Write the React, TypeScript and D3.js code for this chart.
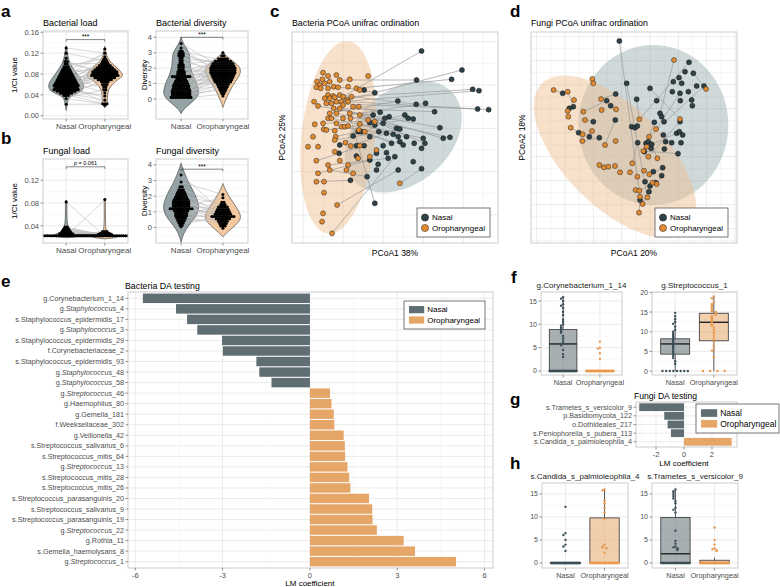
import React from 'react'
import * as d3 from 'd3'

const FONT = '"Liberation Sans", Arial, Helvetica, sans-serif'
const NASAL_BAR = '#5f6e73'
const ORO_BAR = '#e6a667'
const NASAL_PT = '#2f4248'
const ORO_PT = '#e08b32'
const NASAL_VIOLIN = '#96a3a6'
const ORO_VIOLIN = '#f2c9a0'
const GRID = '#e3e3e3'
const GRID_MINOR = '#f1f1f1'
const BORDER = '#cccccc'
const TICK_TXT = '#4d4d4d'
const groups = ['Nasal', 'Oropharyngeal']

// ---- a/b violins: density outline [value, relative half width], dot rows [value, count], pairs [nasal, oro]
const bacLoadNasalProfile = [[0.134, 0], [0.12, 0.08], [0.11, 0.12], [0.1, 0.22], [0.09, 0.4], [0.08, 0.6], [0.07, 0.82], [0.06, 1.0], [0.05, 0.95], [0.045, 0.75], [0.04, 0.4], [0.035, 0.18], [0.03, 0.1], [0.02, 0.05], [0.01, 0]]
const bacLoadOroProfile = [[0.133, 0], [0.12, 0.08], [0.11, 0.15], [0.1, 0.4], [0.09, 0.75], [0.08, 1.0], [0.075, 0.98], [0.07, 0.75], [0.06, 0.4], [0.05, 0.2], [0.04, 0.15], [0.03, 0.14], [0.022, 0.14], [0.015, 0]]
const bacLoadNasalDots = [[0.13, 1], [0.12, 1], [0.11, 1], [0.104, 2], [0.099, 2], [0.094, 3], [0.089, 4], [0.085, 5], [0.081, 6], [0.077, 7], [0.073, 8], [0.069, 9], [0.065, 10], [0.061, 11], [0.058, 12], [0.054, 11], [0.05, 12], [0.047, 9], [0.043, 6], [0.039, 3], [0.033, 1], [0.022, 1]]
const bacLoadOroDots = [[0.128, 1], [0.12, 1], [0.113, 1], [0.108, 2], [0.104, 3], [0.1, 4], [0.096, 6], [0.092, 8], [0.088, 10], [0.084, 12], [0.08, 12], [0.077, 13], [0.073, 10], [0.069, 7], [0.065, 4], [0.06, 3], [0.055, 2], [0.05, 2], [0.044, 1], [0.038, 1], [0.03, 1], [0.023, 3], [0.02, 1]]
const bacLoadPairs = [[0.13, 0.12], [0.12, 0.105], [0.105, 0.08], [0.1, 0.085], [0.095, 0.11], [0.09, 0.075], [0.085, 0.09], [0.08, 0.095], [0.078, 0.07], [0.075, 0.12], [0.07, 0.1], [0.068, 0.08], [0.065, 0.09], [0.063, 0.11], [0.06, 0.075], [0.058, 0.085], [0.056, 0.1], [0.055, 0.07], [0.053, 0.08], [0.05, 0.095], [0.05, 0.06], [0.048, 0.09], [0.047, 0.04], [0.045, 0.078], [0.043, 0.03], [0.042, 0.085], [0.04, 0.023], [0.038, 0.07], [0.035, 0.05], [0.033, 0.022], [0.06, 0.025], [0.07, 0.055], [0.065, 0.045], [0.055, 0.035], [0.022, 0.022], [0.08, 0.065], [0.085, 0.12], [0.1, 0.1], [0.058, 0.082], [0.062, 0.095]]

const bacDivNasalProfile = [[4.0, 0], [3.6, 0.12], [3.2, 0.35], [2.9, 0.48], [2.5, 0.48], [2.1, 0.52], [1.7, 0.6], [1.3, 0.75], [0.9, 0.9], [0.5, 0.98], [0.2, 0.95], [-0.1, 0.72], [-0.4, 0.4], [-0.7, 0.12], [-0.95, 0]]
const bacDivOroProfile = [[3.1, 0], [2.8, 0.15], [2.5, 0.5], [2.2, 0.85], [1.9, 1.0], [1.6, 0.95], [1.3, 0.8], [1.0, 0.62], [0.6, 0.42], [0.2, 0.25], [-0.2, 0.1], [-0.55, 0]]
const bacDivNasalDots = [[3.6, 1], [3.3, 1], [3.1, 2], [2.95, 3], [2.8, 3], [2.65, 2], [2.5, 2], [2.35, 2], [2.2, 3], [2.05, 3], [1.9, 3], [1.75, 4], [1.6, 4], [1.45, 9], [1.3, 5], [1.15, 6], [1.0, 7], [0.85, 8], [0.7, 8], [0.55, 9], [0.4, 9], [0.25, 9], [0.1, 10]]
const bacDivOroDots = [[3.0, 1], [2.8, 2], [2.6, 5], [2.45, 8], [2.3, 10], [2.15, 11], [2.0, 12], [1.85, 12], [1.7, 12], [1.55, 11], [1.4, 10], [1.25, 9], [1.1, 8], [0.95, 6], [0.8, 5], [0.65, 4], [0.5, 3], [0.35, 2], [0.2, 1]]
const bacDivPairs = [[3.6, 2.0], [3.3, 1.5], [3.1, 2.5], [3.0, 1.8], [2.9, 2.2], [2.8, 1.2], [2.6, 2.4], [2.4, 1.9], [2.2, 2.6], [2.0, 1.6], [1.9, 2.3], [1.7, 1.4], [1.6, 2.1], [1.5, 2.5], [1.45, 1.8], [1.4, 1.0], [1.3, 2.0], [1.2, 1.7], [1.1, 2.4], [1.0, 1.5], [0.9, 2.2], [0.85, 1.1], [0.8, 1.9], [0.7, 2.6], [0.65, 1.3], [0.6, 2.0], [0.5, 1.6], [0.45, 0.9], [0.4, 2.3], [0.35, 1.2], [0.3, 1.8], [0.25, 0.6], [0.2, 2.1], [0.15, 1.4], [0.1, 1.0], [0.1, 2.5], [0.05, 0.3], [0.05, 1.7], [0.02, 0.8], [0.0, 2.0], [1.0, 3.0], [2.5, 0.5]]

const fungLoadNasalProfile = [[0.085, 0], [0.082, 0.05], [0.06, 0.04], [0.045, 0.06], [0.037, 0.12], [0.03, 0.25], [0.026, 0.5], [0.023, 0.8], [0.021, 0.7], [0.019, 0]]
const fungLoadOroProfile = [[0.088, 0], [0.085, 0.04], [0.06, 0.03], [0.04, 0.04], [0.03, 0.08], [0.026, 0.3], [0.023, 0.55], [0.021, 0.75], [0.019, 0.6], [0.017, 0]]
const fungLoadNasalDots = [[0.082, 1], [0.038, 2], [0.035, 3], [0.032, 4], [0.029, 5], [0.026, 7], [0.0225, 34]]
const fungLoadOroDots = [[0.086, 1], [0.03, 3], [0.027, 5], [0.025, 7], [0.0225, 34]]
const fungLoadPairs = [[0.082, 0.022], [0.022, 0.085], [0.038, 0.023], [0.036, 0.024], [0.035, 0.022], [0.034, 0.025], [0.033, 0.023], [0.032, 0.022], [0.031, 0.024], [0.03, 0.022], [0.029, 0.023], [0.028, 0.022], [0.027, 0.024], [0.026, 0.022], [0.025, 0.026], [0.024, 0.028], [0.023, 0.03]]

const fungDivNasalProfile = [[4.1, 0], [3.7, 0.12], [3.3, 0.25], [2.9, 0.4], [2.5, 0.6], [2.1, 0.78], [1.7, 0.92], [1.3, 1.0], [0.9, 0.92], [0.5, 0.7], [0.1, 0.4], [-0.3, 0.18], [-0.6, 0.08], [-0.95, 0]]
const fungDivOroProfile = [[2.8, 0], [2.5, 0.1], [2.1, 0.28], [1.7, 0.5], [1.3, 0.75], [0.9, 0.95], [0.6, 1.0], [0.3, 0.85], [0.0, 0.55], [-0.3, 0.25], [-0.6, 0]]
const fungDivNasalDots = [[3.35, 1], [2.9, 1], [2.6, 2], [2.4, 3], [2.25, 4], [2.1, 5], [1.95, 6], [1.8, 7], [1.65, 8], [1.5, 8], [1.35, 8], [1.2, 11], [1.05, 7], [0.9, 6], [0.75, 6], [0.6, 5], [0.45, 4], [0.3, 3], [0.15, 2], [0.05, 1]]
const fungDivOroDots = [[2.1, 1], [1.9, 1], [1.6, 2], [1.45, 3], [1.3, 5], [1.15, 6], [1.0, 7], [0.85, 8], [0.7, 11], [0.55, 7], [0.4, 5], [0.25, 4], [0.1, 3], [-0.05, 1]]
const fungDivPairs = [[3.35, 1.0], [2.9, 2.1], [2.5, 1.3], [2.2, 0.8], [2.0, 1.5], [1.9, 0.6], [1.8, 1.2], [1.7, 0.9], [1.6, 0.4], [1.5, 1.1], [1.4, 0.7], [1.3, 1.9], [1.25, 0.5], [1.2, 0.9], [1.1, 0.3], [1.0, 1.0], [0.9, 0.6], [0.8, 1.4], [0.7, 0.2], [0.6, 0.8], [0.4, 0.5], [0.2, 0.7]]

// ---- c: bacteria PCoA scores [PCoA1, PCoA2]
const bacNasalPCoA = [[0.085, 0.247], [0.206, 0.19], [0.07, 0.16], [0.175, 0.162], [0.238, 0.132], [0.257, 0.128], [0.253, 0.073], [0.286, 0.071], [-0.087, 0.13], [-0.055, 0.122], [0.014, 0.097], [0.069, 0.087], [0.097, 0.09], [0.124, 0.065], [-0.039, 0.063], [-0.06, 0.055], [-0.025, 0.045], [-0.012, 0.05], [0.035, 0.055], [0.045, 0.045], [0.06, 0.043], [-0.07, 0.032], [-0.055, 0.025], [-0.03, 0.03], [0.01, 0.015], [0.02, 0.013], [0.14, 0.017], [-0.105, 0.005], [-0.095, 0.005], [-0.043, 0.005], [-0.02, 0.0], [0.0, -0.003], [0.015, -0.01], [0.04, -0.01], [0.09, -0.015], [0.15, -0.015], [0.17, -0.012], [-0.12, -0.008], [-0.07, -0.01], [-0.005, -0.03], [0.02, -0.025], [0.03, -0.035], [0.063, -0.03], [0.085, -0.045], [0.095, -0.03], [-0.16, -0.035], [-0.11, -0.037], [-0.087, -0.037], [-0.03, -0.037], [-0.02, -0.058], [-0.05, -0.06], [-0.162, -0.06], [-0.11, -0.068], [-0.015, -0.075], [0.005, -0.07], [0.06, -0.085], [-0.07, -0.08], [-0.045, -0.093], [-0.05, -0.11], [0.015, -0.11], [0.085, -0.106], [-0.078, -0.13], [-0.128, -0.141], [-0.055, -0.21]]
const bacOroPCoA = [[-0.075, 0.172], [-0.21, 0.182], [-0.195, 0.172], [-0.17, 0.175], [-0.212, 0.162], [-0.228, 0.155], [-0.22, 0.145], [-0.205, 0.15], [-0.19, 0.155], [-0.16, 0.16], [-0.13, 0.162], [-0.23, 0.138], [-0.217, 0.135], [-0.195, 0.135], [-0.178, 0.14], [-0.165, 0.138], [-0.135, 0.14], [-0.11, 0.135], [-0.1, 0.13], [-0.195, 0.115], [-0.18, 0.112], [-0.16, 0.115], [-0.205, 0.105], [-0.19, 0.105], [-0.175, 0.108], [-0.15, 0.11], [-0.138, 0.1], [-0.125, 0.11], [-0.237, 0.095], [-0.225, 0.082], [-0.2, 0.09], [-0.185, 0.09], [-0.17, 0.095], [-0.155, 0.095], [-0.15, 0.085], [-0.135, 0.095], [-0.178, 0.075], [-0.16, 0.075], [-0.12, 0.08], [-0.103, 0.08], [-0.19, 0.06], [-0.17, 0.06], [-0.13, 0.06], [-0.1, 0.055], [-0.195, 0.045], [-0.185, 0.045], [-0.15, 0.045], [-0.128, 0.045], [-0.075, 0.04], [-0.235, 0.027], [-0.21, 0.03], [-0.17, 0.03], [-0.055, 0.035], [-0.1, 0.028], [-0.155, 0.02], [-0.145, 0.02], [-0.135, 0.022], [-0.208, 0.012], [-0.2, 0.01], [-0.175, 0.008], [-0.103, 0.01], [-0.085, 0.005], [-0.172, -0.01], [-0.175, -0.02], [-0.24, -0.01], [-0.143, -0.028], [-0.127, -0.038], [-0.1, -0.037], [-0.255, -0.04], [-0.225, -0.04], [-0.175, -0.055], [-0.05, -0.05], [-0.23, -0.082], [-0.16, -0.082], [-0.105, -0.075], [-0.07, -0.07], [-0.195, -0.095], [-0.135, -0.095], [-0.19, -0.11], [-0.14, -0.11], [-0.225, -0.12], [-0.23, -0.145], [-0.12, -0.12], [-0.207, -0.145], [0.02, -0.15], [-0.207, -0.178], [-0.168, -0.215], [-0.21, -0.24], [-0.213, -0.265], [-0.183, -0.3]]
const bacPairs = [[0, 25], [1, 26], [2, 9], [3, 17], [4, 22], [5, 33], [6, 30], [7, 35], [8, 14], [10, 40], [11, 21], [12, 44], [13, 36], [14, 39], [16, 47], [18, 52], [19, 50], [20, 58], [23, 61], [25, 63], [26, 29], [27, 62], [30, 66], [33, 54], [34, 45], [35, 37], [36, 41], [41, 55], [44, 43], [46, 67], [47, 72], [50, 75], [53, 76], [56, 80], [60, 84], [63, 47], [54, 89], [61, 78], [62, 81], [59, 86], [15, 42], [9, 18], [24, 48], [31, 53], [39, 60]]
// ellipse [centre x, centre y, radius 1, radius 2, rotation in degrees]
const bacNasalEllipse = [0.03, -0.01, 0.198, 0.14, 41]
const bacOroEllipse = [-0.165, -0.012, 0.11, 0.29, -6]

// ---- d: fungi PCoA scores
const fungNasalPCoA = [[-0.042, 0.277], [0.167, 0.213], [0.155, 0.185], [0.18, 0.18], [0.137, 0.167], [0.12, 0.155], [0.145, 0.15], [0.19, 0.142], [0.212, 0.142], [-0.02, 0.15], [0.05, 0.135], [0.117, 0.125], [0.165, 0.125], [-0.212, 0.12], [-0.053, 0.118], [0.14, 0.12], [0.01, 0.102], [0.07, 0.098], [0.175, 0.1], [-0.08, 0.098], [0.141, 0.098], [0.177, 0.083], [-0.192, 0.075], [-0.18, 0.08], [-0.068, 0.083], [0.08, 0.06], [0.085, 0.05], [-0.054, 0.04], [-0.12, 0.035], [0.063, 0.033], [0.092, 0.035], [0.14, 0.035], [-0.005, 0.02], [0.005, 0.017], [0.012, 0.022], [-0.164, 0.002], [0.13, 0.0], [0.138, 0.005], [0.148, -0.005], [-0.132, -0.01], [-0.102, -0.013], [0.09, -0.005], [0.097, -0.025], [0.115, -0.028], [0.013, -0.028], [0.038, -0.03], [0.045, -0.025], [0.055, -0.033], [0.143, -0.028], [0.093, -0.047], [0.053, -0.045], [0.033, -0.055], [0.134, -0.061], [0.088, -0.103], [0.06, -0.115], [0.085, -0.127], [0.035, -0.145], [0.067, -0.148], [0.05, -0.158], [0.047, -0.175], [0.02, -0.2]]
const fungOroPCoA = [[0.122, 0.22], [-0.123, 0.163], [-0.12, 0.15], [-0.239, 0.13], [-0.197, 0.125], [-0.178, 0.1], [-0.097, 0.103], [-0.052, 0.072], [-0.15, 0.065], [-0.197, 0.067], [-0.195, 0.05], [-0.095, 0.07], [-0.145, 0.04], [0.018, 0.042], [0.068, 0.013], [-0.188, 0.017], [-0.152, -0.003], [-0.124, 0.007], [-0.153, -0.023], [-0.085, -0.035], [-0.053, -0.023], [0.047, -0.01], [0.04, -0.04], [0.03, -0.053], [0.045, -0.07], [0.072, -0.075], [0.14, 0.043], [0.218, 0.133], [-0.003, -0.09], [-0.102, -0.095], [-0.088, -0.102], [-0.075, -0.1], [-0.055, -0.098], [-0.04, -0.117], [-0.01, -0.117], [0.032, -0.112], [0.048, -0.123], [0.012, -0.13], [0.058, -0.148], [0.07, -0.152], [0.007, -0.17], [0.018, -0.172], [0.042, -0.192], [0.02, -0.19], [0.028, -0.212], [0.017, -0.238]]
const fungPairs = [[0, 43], [13, 3], [8, 21], [25, 0], [1, 13], [9, 42], [14, 6], [19, 8], [22, 9], [24, 7], [15, 14], [31, 24], [36, 22], [47, 25], [16, 13], [27, 19], [40, 18], [35, 15], [44, 28], [52, 23], [53, 36], [55, 39], [57, 41], [60, 45], [10, 26], [28, 12], [3, 27], [23, 4], [29, 21], [58, 44]]
const fungNasalEllipse = [0.06, 0.025, 0.225, 0.24, 0]
const fungOroEllipse = [-0.055, -0.07, 0.31, 0.15, -45]

// ---- e: bacteria DA testing
const bacTaxa = ['g.Corynebacterium_1_14', 'g.Staphylococcus_4', 's.Staphylococcus_epidermidis_17', 'g.Staphylococcus_3', 's.Staphylococcus_epidermidis_29', 'f.Corynebacteriaceae_2', 's.Staphylococcus_epidermidis_93', 'g.Staphylococcus_48', 'g.Staphylococcus_58', 'g.Streptococcus_46', 'g.Haemophilus_80', 'g.Gemella_181', 'f.Weeksellaceae_302', 'g.Veillonella_42', 's.Streptococcus_salivarius_6', 's.Streptococcus_mitis_64', 'g.Streptococcus_13', 's.Streptococcus_mitis_28', 's.Streptococcus_mitis_26', 's.Streptococcus_parasanguinis_20', 's.Streptococcus_salivarius_9', 's.Streptococcus_parasanguinis_19', 'g.Streptococcus_22', 'g.Rothia_11', 's.Gemella_haemolysans_8', 'g.Streptococcus_1']
const bacCoef = [-5.74, -4.6, -4.22, -3.87, -3.02, -2.99, -1.84, -1.74, -1.32, 0.69, 0.74, 0.82, 0.84, 1.16, 1.2, 1.21, 1.29, 1.35, 1.39, 2.03, 2.14, 2.15, 2.3, 3.22, 3.61, 5.02]
const bacTicks = [-6, -3, 0, 3, 6]

// ---- g: fungi DA testing
const fungTaxa = ['s.Trametes_s_versicolor_9', 'p.Basidiomycota_122', 'o.Dothideales_217', 's.Peniophorella_s_pubera_113', 's.Candida_s_palmioleophila_4']
const fungCoef = [-3.2, -1.41, -1.17, -0.93, 3.41]
const fungTicks = [-2, 0, 2]

// ---- f/h: boxplots [q1, median, q3, lower whisker, upper whisker], nonzero values, count of zeros
const coryNasalStats = [0, 5.8, 8.9, 0, 15.8]
const coryOroStats = [0, 0, 0, 0, 0]
const coryNasalVals = [15.8, 15.5, 15.0, 14.3, 14.0, 13.5, 12.7, 12.0, 11.0, 10.5, 10.0, 9.7, 9.3, 9.0, 8.8, 8.5, 8.2, 7.5, 7.0, 6.5, 6.0, 5.8, 5.5, 4.5, 3.6, 3.0]
const coryOroVals = [6.3, 5.0, 4.8, 3.8, 2.6]
const coryZeros = [45, 60]

const strepNasalStats = [4.3, 6.9, 8.2, 0, 14.0]
const strepOroStats = [7.7, 12.4, 14.7, 0, 19.0]
const strepNasalVals = [14.8, 14.0, 13.2, 12.5, 12.0, 11.3, 10.5, 10.0, 9.5, 9.2, 8.8, 8.4, 8.0, 7.7, 7.4, 7.1, 6.8, 6.5, 6.2, 5.9, 5.5, 5.0, 4.7, 4.3, 3.8, 3.3, 2.5, 1.8]
const strepOroVals = [19.0, 18.5, 17.5, 17.0, 16.5, 16.0, 15.5, 15.2, 15.0, 14.8, 14.6, 14.3, 14.0, 13.7, 13.3, 13.0, 12.7, 12.4, 12.0, 11.6, 11.0, 10.4, 9.7, 9.0, 8.3, 7.5, 6.5, 5.5, 5.2, 3.5]
const strepZeros = [8, 4]

const candNasalStats = [0, 0, 0, 0, 0]
const candOroStats = [0, 0, 9.8, 0, 16.0]
const candNasalVals = [12.2, 6.5, 6.1, 5.0, 4.0, 3.6, 2.6]
const candOroVals = [16.0, 15.8, 13.6, 13.0, 12.0, 11.0, 9.6, 4.0, 3.6, 3.4, 3.2, 2.2]
const candZeros = [55, 40]

const tramNasalStats = [0, 2.0, 9.9, 0, 16.0]
const tramOroStats = [0, 0, 0.6, 0, 1.2]
const tramNasalVals = [16.0, 15.6, 15.2, 14.8, 14.4, 14.0, 13.5, 13.0, 12.0, 11.6, 11.0, 7.0, 4.8, 4.2, 3.6, 3.4, 3.2, 3.0, 2.8]
const tramOroVals = [7.7, 5.0, 4.0, 3.2, 3.0, 2.8, 2.6]
const tramZeros = [35, 55]

const txt = (x, y, s, opts: any = {}) => (
  <text x={x} y={y} fontFamily={FONT} fontSize={opts.size || 8} fill={opts.fill || '#000'}
    textAnchor={opts.anchor || 'start'} fontWeight={opts.weight || 'normal'}
    transform={opts.rotate ? `rotate(-90 ${x} ${y})` : undefined}>{s}</text>
)

const midpoints = (ticks, domain) => {
  const step = ticks[1] - ticks[0]
  const out = []
  for (let v = ticks[0] - step / 2; v <= ticks[ticks.length - 1] + step / 2 + 1e-9; v += step) {
    if (v >= Math.min(...domain) && v <= Math.max(...domain)) out.push(v)
  }
  return out
}

const ViolinPanel = (p: any) => {
  const x = d3.scalePoint().domain(groups).range([p.left, p.left + p.w]).padding(0.6)
  const y = d3.scaleLinear().domain(p.domain).range([p.top + p.h, p.top])
  const hw = 18
  const vPath = (cx, prof) => d3.area().x0((d: any) => cx - d[1] * hw).x1((d: any) => cx + d[1] * hw)
    .y((d: any) => y(d[0])).curve(d3.curveBasis)(prof as any)
  const dots = (cx, rows) => rows.flatMap(([v, n], i) => d3.range(n).map(k => (
    <circle key={`${i}-${k}`} cx={cx + (k - (n - 1) / 2) * 2.2} cy={y(v)} r={1.55} fill="#000" />
  )))
  const xn = x('Nasal'), xo = x('Oropharyngeal')
  const sy = y(p.sigY)
  return (
    <g>
      <defs><clipPath id={p.id}><rect x={p.left} y={p.top} width={p.w} height={p.h} /></clipPath></defs>
      {midpoints(p.ticks, p.domain).map(v => <line key={'m' + v} x1={p.left} x2={p.left + p.w} y1={y(v)} y2={y(v)} stroke={GRID_MINOR} strokeWidth={0.5} />)}
      {p.ticks.map(v => <line key={'t' + v} x1={p.left} x2={p.left + p.w} y1={y(v)} y2={y(v)} stroke={GRID} strokeWidth={0.7} />)}
      {[xn, xo].map(cx => <line key={cx} x1={cx} x2={cx} y1={p.top} y2={p.top + p.h} stroke={GRID} strokeWidth={0.7} />)}
      <g clipPath={`url(#${p.id})`}>
        <path d={vPath(xn, p.nasalProfile)} fill={NASAL_VIOLIN} stroke="#3a3a3a" strokeWidth={0.6} />
        <path d={vPath(xo, p.oroProfile)} fill={ORO_VIOLIN} stroke="#3a3a3a" strokeWidth={0.6} />
        {p.pairs.map(([a, b], i) => <line key={i} x1={xn} x2={xo} y1={y(a)} y2={y(b)} stroke="#bdbdbd" strokeWidth={0.7} opacity={0.85} />)}
        {dots(xn, p.nasalDots)}
        {dots(xo, p.oroDots)}
      </g>
      <rect x={p.left} y={p.top} width={p.w} height={p.h} fill="none" stroke={BORDER} strokeWidth={1} />
      <path d={`M${xn},${sy + 2}V${sy}H${xo}V${sy + 2}`} fill="none" stroke="#333" strokeWidth={0.6} />
      {p.sigLabel === 'p' ? (
        <text x={(xn + xo) / 2} y={sy - 1.5} fontFamily={FONT} fontSize={5.5} textAnchor="middle"><tspan fontStyle="italic">p</tspan> = 0.061</text>
      ) : txt((xn + xo) / 2, sy - 0.5, '***', { size: 6.5, anchor: 'middle' })}
      {p.ticks.map(v => (
        <g key={'l' + v}>
          <line x1={p.left - 2.5} x2={p.left} y1={y(v)} y2={y(v)} stroke={TICK_TXT} strokeWidth={0.6} />
          {txt(p.left - 4, y(v) + 2.7, p.fmt(v), { size: 7.5, fill: TICK_TXT, anchor: 'end' })}
        </g>
      ))}
      {groups.map(g => (
        <g key={g}>
          <line x1={x(g)} x2={x(g)} y1={p.top + p.h} y2={p.top + p.h + 2.5} stroke={TICK_TXT} strokeWidth={0.6} />
          {txt(x(g), p.top + p.h + 9.5, g, { size: 8, fill: TICK_TXT, anchor: 'middle' })}
        </g>
      ))}
      {txt(p.left, p.top - 5, p.title, { size: 9 })}
      {txt(p.ylabX, p.top + p.h / 2, p.ylab, { size: 8, anchor: 'middle', rotate: true })}
    </g>
  )
}

const PCoAPanel = (p: any) => {
  const x = d3.scaleLinear().domain(p.xDomain).range([p.left, p.left + p.w])
  const y = d3.scaleLinear().domain(p.yDomain).range([p.top + p.h, p.top])
  const ell = (e) => {
    const [cx, cy, r1, r2, deg] = e
    const th = deg * Math.PI / 180
    const pts = d3.range(0, 361, 3).map(a => {
      const t = a * Math.PI / 180
      return [x(cx + r1 * Math.cos(t) * Math.cos(th) - r2 * Math.sin(t) * Math.sin(th)),
        y(cy + r1 * Math.cos(t) * Math.sin(th) + r2 * Math.sin(t) * Math.cos(th))]
    })
    return d3.line()(pts as any) + 'Z'
  }
  const lx = p.legendX, ly = p.top + 176
  return (
    <g>
      <defs><clipPath id={p.id}><rect x={p.left} y={p.top} width={p.w} height={p.h} /></clipPath></defs>
      {p.xGrid.map((v, i) => <line key={'x' + i} x1={x(v)} x2={x(v)} y1={p.top} y2={p.top + p.h} stroke={i % 2 ? GRID_MINOR : GRID} strokeWidth={0.7} />)}
      {p.yGrid.map((v, i) => <line key={'y' + i} x1={p.left} x2={p.left + p.w} y1={y(v)} y2={y(v)} stroke={i % 2 ? GRID_MINOR : GRID} strokeWidth={0.7} />)}
      <g clipPath={`url(#${p.id})`}>
        <path d={ell(p.nasalEll)} fill="#8aa0a3" fillOpacity={0.4} />
        <path d={ell(p.oroEll)} fill="#eebc8c" fillOpacity={0.45} />
        {p.pairs.map(([a, b], i) => <line key={i} x1={x(p.nasal[a][0])} y1={y(p.nasal[a][1])} x2={x(p.oro[b][0])} y2={y(p.oro[b][1])} stroke="#9a9a9a" strokeWidth={0.7} />)}
        {p.nasal.map((d, i) => <circle key={'n' + i} cx={x(d[0])} cy={y(d[1])} r={2.5} fill={NASAL_PT} stroke="#111" strokeWidth={0.5} />)}
        {p.oro.map((d, i) => <circle key={'o' + i} cx={x(d[0])} cy={y(d[1])} r={2.5} fill={ORO_PT} stroke="#222" strokeWidth={0.5} />)}
      </g>
      <rect x={p.left} y={p.top} width={p.w} height={p.h} fill="none" stroke={BORDER} strokeWidth={1} />
      <rect x={lx} y={ly} width={73} height={29} fill="#fff" stroke="#555" strokeWidth={0.8} />
      <circle cx={lx + 8} cy={ly + 9.5} r={3.6} fill={NASAL_PT} stroke="#111" strokeWidth={0.5} />
      <circle cx={lx + 8} cy={ly + 20} r={3.6} fill={ORO_PT} stroke="#222" strokeWidth={0.5} />
      {txt(lx + 15, ly + 12.3, 'Nasal', { size: 8 })}
      {txt(lx + 15, ly + 22.8, 'Oropharyngeal', { size: 8 })}
      {txt(p.left, p.top - 6, p.title, { size: 8.8 })}
      {txt(p.left + p.w / 2, p.top + p.h + 13, p.xlab, { size: 8.5, anchor: 'middle' })}
      {txt(p.ylabX, p.top + p.h / 2, p.ylab, { size: 8.5, anchor: 'middle', rotate: true })}
    </g>
  )
}

const taxonLabel = (s, x, y, size) => {
  const m = s.match(/^g\.(Staphylococcus|Streptococcus)(_\d+)$/)
  return (
    <text x={x} y={y} fontFamily={FONT} fontSize={size} fill={TICK_TXT} textAnchor="end">
      {m ? [<tspan key="a">g.</tspan>, <tspan key="b" fontStyle="italic">{m[1]}</tspan>, <tspan key="c">{m[2]}</tspan>] : s}
    </text>
  )
}

const BarPanel = (p: any) => {
  const x = d3.scaleLinear().domain(p.domain).range([p.left, p.left + p.w])
  const y = d3.scalePoint().domain(p.labels).range([p.top, p.top + p.h]).padding(0.6)
  const bh = y.step() * 0.9
  return (
    <g>
      {midpoints(p.ticks, p.domain).map(v => <line key={'m' + v} x1={x(v)} x2={x(v)} y1={p.top} y2={p.top + p.h} stroke={GRID_MINOR} strokeWidth={0.5} />)}
      {p.ticks.map(v => <line key={'t' + v} x1={x(v)} x2={x(v)} y1={p.top} y2={p.top + p.h} stroke={GRID} strokeWidth={0.7} />)}
      {p.labels.map(l => <line key={'h' + l} x1={p.left} x2={p.left + p.w} y1={y(l)} y2={y(l)} stroke={GRID} strokeWidth={0.7} />)}
      {p.labels.map((l, i) => {
        const v = p.values[i]
        return <rect key={l} x={x(Math.min(0, v))} y={y(l) - bh / 2} width={Math.abs(x(v) - x(0))} height={bh} fill={v < 0 ? NASAL_BAR : ORO_BAR} />
      })}
      <rect x={p.left} y={p.top} width={p.w} height={p.h} fill="none" stroke={BORDER} strokeWidth={1} />
      {p.labels.map(l => (
        <g key={'l' + l}>
          <line x1={p.left - 2.5} x2={p.left} y1={y(l)} y2={y(l)} stroke={TICK_TXT} strokeWidth={0.6} />
          {taxonLabel(l, p.left - 4, y(l) + 2.5, p.labelSize)}
        </g>
      ))}
      {p.ticks.map(v => (
        <g key={'x' + v}>
          <line x1={x(v)} x2={x(v)} y1={p.top + p.h} y2={p.top + p.h + 2.5} stroke={TICK_TXT} strokeWidth={0.6} />
          {txt(x(v), p.top + p.h + 10, String(v), { size: 7.5, fill: TICK_TXT, anchor: 'middle' })}
        </g>
      ))}
      {txt(x(0), p.top + p.h + p.xlabDy, 'LM coefficient', { size: 8, anchor: 'middle' })}
      {txt(p.titleX, p.top - 3, p.title, { size: p.titleSize })}
    </g>
  )
}

const BarLegend = ({ x, y, w, h, size }) => (
  <g>
    <rect x={x} y={y} width={w} height={h} fill="#fff" stroke="#555" strokeWidth={0.8} />
    <rect x={x + 5} y={y + h * 0.18} width={size * 1.9} height={size * 0.9} fill={NASAL_BAR} />
    <rect x={x + 5} y={y + h * 0.55} width={size * 1.9} height={size * 0.9} fill={ORO_BAR} />
    {txt(x + 8 + size * 1.9, y + h * 0.18 + size * 0.8, 'Nasal', { size })}
    {txt(x + 8 + size * 1.9, y + h * 0.55 + size * 0.8, 'Oropharyngeal', { size })}
  </g>
)

const BoxPanel = (p: any) => {
  const x = d3.scalePoint().domain(groups).range([p.left, p.left + p.w]).padding(0.6)
  const y = d3.scaleLinear().domain(p.domain).range([p.top + p.h, p.top])
  const bw = x.step() * 0.75
  const box = (g, st, fill, ptCol, vals, zeros, key) => {
    const cx = x(g)
    const [q1, med, q3, lo, hi] = st
    const placed = []
    const pts = vals.map(v => {
      const py = y(v)
      const k = placed.filter(q => Math.abs(q - py) < 2.2).length
      placed.push(py)
      const off = k === 0 ? 0 : (k % 2 ? -1 : 1) * Math.ceil(k / 2) * 2
      return [cx + off, py]
    })
    const zpts = d3.range(zeros).map(i => [cx - bw / 2 + (i + 0.5) * bw / zeros, y(0)])
    return (
      <g key={key}>
        <line x1={cx} x2={cx} y1={y(q3)} y2={y(hi)} stroke="#333" strokeWidth={0.8} />
        <line x1={cx} x2={cx} y1={y(q1)} y2={y(lo)} stroke="#333" strokeWidth={0.8} />
        <rect x={cx - bw / 2} y={y(q3)} width={bw} height={Math.max(0.01, y(q1) - y(q3))} fill={fill} fillOpacity={0.55} stroke="#333" strokeWidth={0.8} />
        <line x1={cx - bw / 2} x2={cx + bw / 2} y1={y(med)} y2={y(med)} stroke="#222" strokeWidth={1.4} />
        {pts.concat(zpts).map((d, i) => <circle key={i} cx={d[0]} cy={d[1]} r={1.2} fill={ptCol} />)}
      </g>
    )
  }
  return (
    <g>
      {midpoints(p.ticks, p.domain).map(v => <line key={'m' + v} x1={p.left} x2={p.left + p.w} y1={y(v)} y2={y(v)} stroke={GRID_MINOR} strokeWidth={0.5} />)}
      {p.ticks.map(v => <line key={'t' + v} x1={p.left} x2={p.left + p.w} y1={y(v)} y2={y(v)} stroke={GRID} strokeWidth={0.7} />)}
      {groups.map(g => <line key={g} x1={x(g)} x2={x(g)} y1={p.top} y2={p.top + p.h} stroke={GRID} strokeWidth={0.7} />)}
      {box('Nasal', p.nasalStats, NASAL_BAR, '#3c5058', p.nasalVals, p.zeros[0], 'n')}
      {box('Oropharyngeal', p.oroStats, ORO_BAR, '#e89a50', p.oroVals, p.zeros[1], 'o')}
      <rect x={p.left} y={p.top} width={p.w} height={p.h} fill="none" stroke={BORDER} strokeWidth={1} />
      {p.ticks.map(v => (
        <g key={'l' + v}>
          <line x1={p.left - 2.5} x2={p.left} y1={y(v)} y2={y(v)} stroke={TICK_TXT} strokeWidth={0.6} />
          {txt(p.left - 4, y(v) + 2.5, String(v), { size: 7, fill: TICK_TXT, anchor: 'end' })}
        </g>
      ))}
      {groups.map(g => (
        <g key={'x' + g}>
          <line x1={x(g)} x2={x(g)} y1={p.top + p.h} y2={p.top + p.h + 2.5} stroke={TICK_TXT} strokeWidth={0.6} />
          {txt(x(g), p.top + p.h + 9.5, g, { size: 7.3, fill: TICK_TXT, anchor: 'middle' })}
        </g>
      ))}
      {txt(p.left + p.w / 2, p.top - 4, p.title, { size: 8, fill: '#222', anchor: 'middle' })}
    </g>
  )
}

const letter = (s, x, y) => txt(x, y, s, { size: 17, weight: 'bold' })

export default function App() {
  const f2 = v => v.toFixed(2)
  const f0 = v => String(v)
  return (
    <svg width={780} height={587} style={{ position: 'absolute', left: 0, top: 0, background: '#fff' }}>
      <rect width={780} height={587} fill="#fff" />
      {letter('a', 1, 17)}
      {letter('b', 1, 144)}
      {letter('c', 270, 17)}
      {letter('d', 510, 17)}
      {letter('e', 1, 287)}
      {letter('f', 511, 283)}
      {letter('g', 510, 405)}
      {letter('h', 510, 469)}

      <ViolinPanel id="va1" left={43} top={31} w={85} h={88} domain={[-0.0063, 0.1625]} ticks={[0, 0.04, 0.08, 0.12, 0.16]} fmt={f2}
        title="Bacterial load" ylab="1/Ct value" ylabX={17} nasalProfile={bacLoadNasalProfile} oroProfile={bacLoadOroProfile}
        nasalDots={bacLoadNasalDots} oroDots={bacLoadOroDots} pairs={bacLoadPairs} sigY={0.146} sigLabel="***" />
      <ViolinPanel id="va2" left={156} top={31} w={92} h={88} domain={[-1.3, 4.41]} ticks={[0, 1, 2, 3, 4]} fmt={f0}
        title="Bacterial diversity" ylab="Diversity" ylabX={147} nasalProfile={bacDivNasalProfile} oroProfile={bacDivOroProfile}
        nasalDots={bacDivNasalDots} oroDots={bacDivOroDots} pairs={bacDivPairs} sigY={4.0} sigLabel="***" />
      <ViolinPanel id="vb1" left={43} top={159} w={85} h={84} domain={[0.0098, 0.1573]} ticks={[0.04, 0.08, 0.12]} fmt={f2}
        title="Fungal load" ylab="1/Ct value" ylabX={17} nasalProfile={fungLoadNasalProfile} oroProfile={fungLoadOroProfile}
        nasalDots={fungLoadNasalDots} oroDots={fungLoadOroDots} pairs={fungLoadPairs} sigY={0.1436} sigLabel="p" />
      <ViolinPanel id="vb2" left={156} top={159} w={92} h={84} domain={[-0.99, 4.37]} ticks={[0, 1, 2, 3, 4]} fmt={f0}
        title="Fungal diversity" ylab="Diversity" ylabX={147} nasalProfile={fungDivNasalProfile} oroProfile={fungDivOroProfile}
        nasalDots={fungDivNasalDots} oroDots={fungDivOroDots} pairs={fungDivPairs} sigY={3.72} sigLabel="***" />

      <PCoAPanel id="pc" left={292} top={32} w={206} h={211} xDomain={[-0.303, 0.314]} yDomain={[-0.329, 0.304]}
        nasal={bacNasalPCoA} oro={bacOroPCoA} pairs={bacPairs} nasalEll={bacNasalEllipse} oroEll={bacOroEllipse}
        title="Bacteria PCoA unifrac ordination" xlab="PCoA1 38%" ylab="PCoA2 25%" ylabX={285} legendX={417}
        xGrid={d3.range(-0.27, 0.31, 0.06)} yGrid={d3.range(0.275, -0.33, -0.065)} />
      <PCoAPanel id="pd" left={531} top={32} w={206} h={211} xDomain={[-0.307, 0.311]} yDomain={[-0.329, 0.304]}
        nasal={fungNasalPCoA} oro={fungOroPCoA} pairs={fungPairs} nasalEll={fungNasalEllipse} oroEll={fungOroEllipse}
        title="Fungi PCoA unifrac ordination" xlab="PCoA1 20%" ylab="PCoA2 18%" ylabX={525} legendX={655}
        xGrid={d3.range(-0.29, 0.31, 0.0425)} yGrid={d3.range(0.29, -0.33, -0.036)} />

      <BarPanel labels={bacTaxa} values={bacCoef} left={128} top={292} w={365} h={276} domain={[-6.25, 6.29]} ticks={bacTicks}
        labelSize={7.2} title="Bacteria DA testing" titleX={125} titleSize={8.8} xlabDy={18} />
      <BarLegend x={404} y={301} w={81} h={28} size={8} />

      <BoxPanel left={541} top={292} w={81} h={83} domain={[-0.86, 16.93]} ticks={[0, 5, 10, 15]} title="g.Corynebacterium_1_14"
        nasalStats={coryNasalStats} oroStats={coryOroStats} nasalVals={coryNasalVals} oroVals={coryOroVals} zeros={coryZeros} />
      <BoxPanel left={652} top={292} w={85} h={83} domain={[-1.0, 20.1]} ticks={[0, 5, 10, 15, 20]} title="g.Streptococcus_1"
        nasalStats={strepNasalStats} oroStats={strepOroStats} nasalVals={strepNasalVals} oroVals={strepOroVals} zeros={strepZeros} />

      <BarPanel labels={fungTaxa} values={fungCoef} left={636} top={402} w={101} h={45} domain={[-3.43, 3.79]} ticks={fungTicks}
        labelSize={7.2} title="Fungi DA testing" titleX={634} titleSize={8.6} xlabDy={19} />
      <BarLegend x={696} y={404} w={83} h={29} size={8.5} />

      <BoxPanel left={542} top={483} w={86} h={85} domain={[-1.09, 17.39]} ticks={[0, 5, 10, 15]} title="s.Candida_s_palmioleophila_4"
        nasalStats={candNasalStats} oroStats={candOroStats} nasalVals={candNasalVals} oroVals={candOroVals} zeros={candZeros} />
      <BoxPanel left={652} top={483} w={86} h={85} domain={[-1.09, 17.39]} ticks={[0, 5, 10, 15]} title="s.Trametes_s_versicolor_9"
        nasalStats={tramNasalStats} oroStats={tramOroStats} nasalVals={tramNasalVals} oroVals={tramOroVals} zeros={tramZeros} />
    </svg>
  )
}
